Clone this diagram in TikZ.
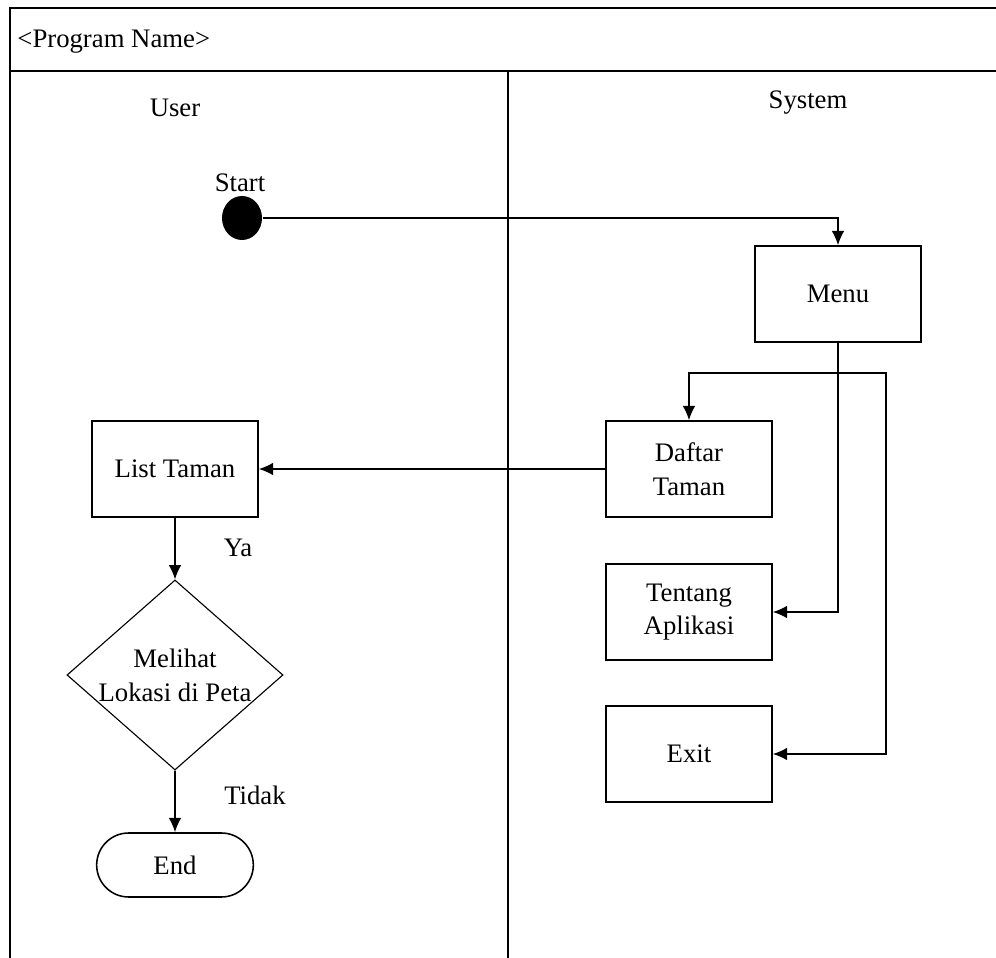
\documentclass[tikz,border=0pt]{standalone}
\usepackage{fontspec}
\setmainfont{Liberation Serif}
\usepackage{tikz}
\usetikzlibrary{positioning, calc, arrows.meta, shapes.geometric, shapes.misc}
\tikzset{>={Latex[length=3.6mm,width=3.2mm]}}

\begin{document}
\begin{tikzpicture}[x=0.025cm,y=-0.025cm,line width=1.1pt,
    every node/.style={font=\fontsize{19}{24}\selectfont},
    act/.style={draw,rectangle,minimum width=4.15cm,minimum height=2.4cm,align=center,inner sep=2pt},
    choice/.style={draw,diamond,aspect=1.14,minimum width=5.4cm,minimum height=4.75cm,inner sep=0,align=center,line width=0.8pt},
    stopnode/.style={draw,rounded rectangle,minimum width=4.15cm,minimum height=1.6cm},
    startdot/.style={fill,ellipse,minimum width=1cm,minimum height=1.1cm,inner sep=0}]
    \useasboundingbox (0,0) rectangle (996,958);
    % swimlanes
    \draw (996,8) -- (10,8) -- (10,958);
    \draw (10,71) -- (996,71);
    \draw (508,71) -- (508,958);
    \node[anchor=west] (prog) at (12,42) {<Program Name>};
    \node (user) at (175,108) {User};
    \node (system) at (808,103) {System};
    % user lane
    \node[startdot] (start) at (242,218) {};
    \node (startlbl) at (240,183) {Start};
    \node[act] (list) at (175,469) {List Taman};
    \node[choice] (lihat) at (175,675) {Melihat\\Lokasi di Peta};
    \node[stopnode] (end) at (175,865) {End};
    \node (ya) at (238,548) {Ya};
    \node (tidak) at (255,795) {Tidak};
    % system lane
    \node[act] (menu) at (838,294) {Menu};
    \node[act] (daftar) at (689,469) {Daftar\\Taman};
    \node[act] (tentang) at (689,612) {Tentang\\Aplikasi};
    \node[act] (exit) at (689,754) {Exit};
    \coordinate (split) at (838,373);
    \coordinate (bend) at (886,373);
    \draw[->] (start) -| (menu);
    \draw (menu) -- (split);
    \draw[->] (split) -| (daftar);
    \draw[->] (split) |- (tentang);
    \draw[->] (split) -- (bend) |- (exit);
    \path[->]
        (daftar) edge (list)
        (list)   edge (lihat)
        (lihat)  edge (end)
    ;
\end{tikzpicture}
\end{document}
